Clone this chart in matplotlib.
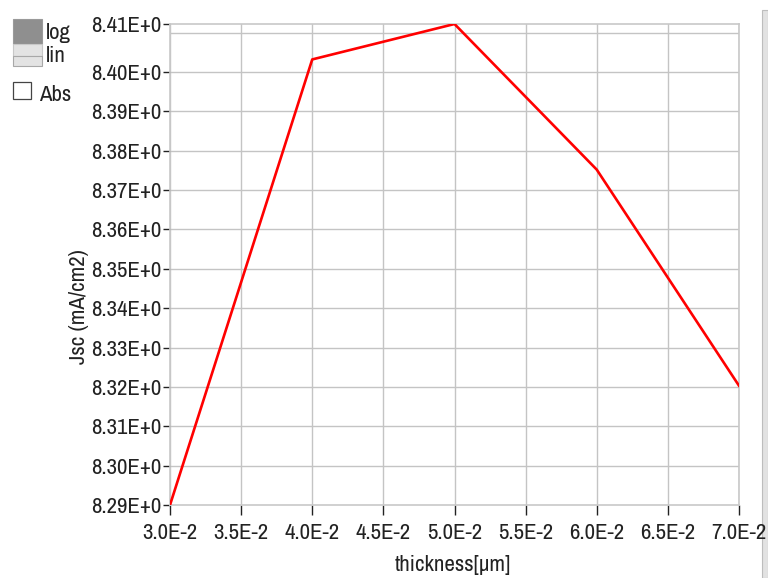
import numpy as np
import matplotlib.pyplot as plt
from matplotlib import font_manager
from matplotlib.patches import Rectangle

# 厚度扫描结果 (μm) 与短路电流密度 (mA/cm2)
thickness = [0.03, 0.04, 0.05, 0.06, 0.07]
jsc = [8.2900, 8.4032, 8.4122, 8.3752, 8.3203]

x_ticks = [0.030, 0.035, 0.040, 0.045, 0.050, 0.055, 0.060, 0.065, 0.070]
x_labels = ["3.0E-2", "3.5E-2", "4.0E-2", "4.5E-2", "5.0E-2",
            "5.5E-2", "6.0E-2", "6.5E-2", "7.0E-2"]
y_grid = [8.30, 8.31, 8.32, 8.33, 8.34, 8.35, 8.36, 8.37, 8.38, 8.39, 8.40, 8.41]

# 优先使用窄体字体
narrow = [f.name for f in font_manager.fontManager.ttflist
          if "Narrow" in f.name or "Condensed" in f.name]
if narrow:
    plt.rcParams['font.family'] = [sorted(narrow)[0], 'Liberation Sans', 'DejaVu Sans']
    fs = 16.5
else:
    plt.rcParams['font.family'] = ['Liberation Sans', 'DejaVu Sans']
    fs = 14

fig = plt.figure(figsize=(7.68, 5.78), dpi=100)
ax = fig.add_axes([170 / 768, 1 - 505 / 578, 569 / 768, 481 / 578])

ymin, ymax = min(jsc), max(jsc)

# 网格线
for v in y_grid:
    ax.axhline(v, color="#c4c4c4", lw=1, zorder=0)
for v in x_ticks:
    ax.axvline(v, color="#c4c4c4", lw=1, zorder=0)

ax.plot(thickness, jsc, color="red", lw=1.9, zorder=3)

ax.set_xlim(thickness[0], thickness[-1])
ax.set_ylim(ymin, ymax)

# 两端标签显示数据最小/最大值
yt = [ymin] + y_grid[:-1] + [ymax]
ax.set_yticks(yt)
ax.set_yticklabels([f"{v:.2f}E+0" for v in yt])
ax.set_xticks(x_ticks)
ax.set_xticklabels(x_labels)

ax.tick_params(axis="both", labelsize=fs, colors="#222222", length=5, width=1, direction="out")
ax.tick_params(axis="y", pad=1)
ax.tick_params(axis="x", pad=6)
ax.xaxis.set_tick_params(length=7)

for s in ax.spines.values():
    s.set_color("#c8c8c8")
    s.set_linewidth(1.2)

ax.set_xlabel("thickness[µm]", fontsize=fs, color="#222222")
ax.set_ylabel("Jsc (mA/cm2)", fontsize=fs, color="#222222")
ax.xaxis.set_label_coords((453 - 170) / 569, (505 - 565) / 481)
ax.yaxis.set_label_coords((79 - 170) / 569, (505 - 307) / 481)
ax.xaxis.label.set_va("center")
ax.yaxis.label.set_va("center")

# 左上角 log / lin 按钮与 Abs 复选框
fig.patches.append(Rectangle((13 / 768, 1 - 44 / 578), 29 / 768, 25 / 578,
                             transform=fig.transFigure, facecolor="#8f8f8f",
                             edgecolor="#9a9a9a", lw=0.8))
fig.patches.append(Rectangle((13 / 768, 1 - 56 / 578), 29 / 768, 12 / 578,
                             transform=fig.transFigure, facecolor="#e3e3e3",
                             edgecolor="#c8c8c8", lw=0.8))
fig.patches.append(Rectangle((13 / 768, 1 - 66 / 578), 29 / 768, 10 / 578,
                             transform=fig.transFigure, facecolor="#e3e3e3",
                             edgecolor="#a8a8a8", lw=0.8))
fig.text(46 / 768, 1 - 33 / 578, "log", fontsize=fs, va="center", color="#222222")
fig.text(46 / 768, 1 - 56 / 578, "lin", fontsize=fs, va="center", color="#222222")
fig.patches.append(Rectangle((13 / 768, 1 - 99 / 578), 18 / 768, 17 / 578,
                             transform=fig.transFigure, facecolor="white",
                             edgecolor="#444444", lw=0.9))
fig.text(39 / 768, 1 - 95 / 578, "Abs", fontsize=fs, va="center", color="#222222")

# 右侧滚动条
fig.patches.append(Rectangle((762 / 768, 0), 6 / 768, 1 - 10 / 578,
                             transform=fig.transFigure, facecolor="#e2e2e2",
                             edgecolor="#bdbdbd", lw=0.8, zorder=-1))

fig.savefig("out.png", dpi=100)
